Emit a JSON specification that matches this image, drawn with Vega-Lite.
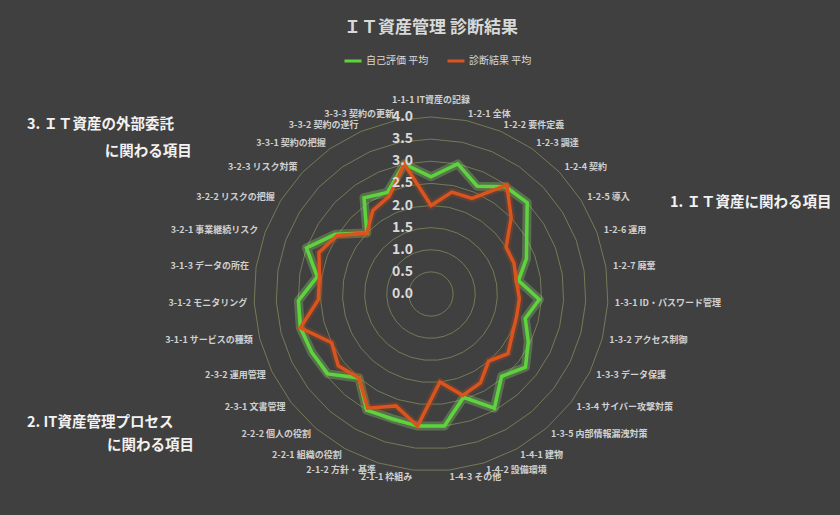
{
  "$schema": "https://vega.github.io/schema/vega-lite/v6.json",
  "width": 840,
  "height": 455,
  "autosize": {"type": "none"},
  "padding": {"top": 60, "left": 0, "right": 0, "bottom": 0},
  "background": "#404040",
  "config": {
    "view": {"stroke": null},
    "font": "Noto Sans CJK JP",
    "legend": {
      "orient": "none",
      "legendX": 343,
      "legendY": -9,
      "direction": "horizontal",
      "padding": 0,
      "symbolType": "stroke",
      "symbolSize": 289,
      "symbolStrokeWidth": 3,
      "labelFontSize": 10,
      "labelColor": "#D9D9D9",
      "labelFont": "Noto Sans CJK JP",
      "labelOffset": 3,
      "columnPadding": 12
    }
  },
  "title": {
    "text": "ＩＴ資産管理 診断結果",
    "anchor": "middle",
    "frame": "group",
    "dx": 11,
    "offset": 14,
    "fontSize": 17,
    "fontWeight": "bold",
    "color": "#D9D9D9",
    "font": "Noto Sans CJK JP"
  },
  "datasets": {
    "items": [
      {"idx": 0, "label": "1-1-1 IT資産の記録", "自己評価 平均": 2.65, "診断結果 平均": 2.0},
      {"idx": 1, "label": "1-2-1 全体", "自己評価 平均": 3.0, "診断結果 平均": 2.35},
      {"idx": 2, "label": "1-2-2 要件定義", "自己評価 平均": 2.65, "診断結果 平均": 2.35},
      {"idx": 3, "label": "1-2-3 調達", "自己評価 平均": 2.95, "診断結果 平均": 3.0},
      {"idx": 4, "label": "1-2-4 契約", "自己評価 平均": 3.0, "診断結果 平均": 2.5},
      {"idx": 5, "label": "1-2-5 導入", "自己評価 平均": 2.55, "診断結果 平均": 2.0},
      {"idx": 6, "label": "1-2-6 運用", "自己評価 平均": 2.3, "診断結果 平均": 2.0},
      {"idx": 7, "label": "1-2-7 廃棄", "自己評価 平均": 2.0, "診断結果 平均": 1.95},
      {"idx": 8, "label": "1-3-1 ID・パスワード管理", "自己評価 平均": 2.45, "診断結果 平均": 2.0},
      {"idx": 9, "label": "1-3-2 アクセス制御", "自己評価 平均": 2.2, "診断結果 平均": 2.0},
      {"idx": 10, "label": "1-3-3 データ保護", "自己評価 平均": 2.45, "診断結果 平均": 2.05},
      {"idx": 11, "label": "1-3-4 サイバー攻撃対策", "自己評価 平均": 2.7, "診断結果 平均": 2.2},
      {"idx": 12, "label": "1-3-5 内部情報漏洩対策", "自己評価 平均": 2.45, "診断結果 平均": 2.0},
      {"idx": 13, "label": "1-4-1 建物", "自己評価 平均": 2.95, "診断結果 平均": 2.3},
      {"idx": 14, "label": "1-4-2 設備環境", "自己評価 平均": 2.45, "診断結果 平均": 2.4},
      {"idx": 15, "label": "1-4-3 その他", "自己評価 平均": 3.0, "診断結果 平均": 2.0},
      {"idx": 16, "label": "2-1-1 枠組み", "自己評価 平均": 3.0, "診断結果 平均": 3.0},
      {"idx": 17, "label": "2-1-2 方針・基準", "自己評価 平均": 2.95, "診断結果 平均": 2.65},
      {"idx": 18, "label": "2-2-1 組織の役割", "自己評価 平均": 3.0, "診断結果 平均": 2.95},
      {"idx": 19, "label": "2-2-2 個人の役割", "自己評価 平均": 2.5, "診断結果 平均": 2.5},
      {"idx": 20, "label": "2-3-1 文書管理", "自己評価 平均": 2.95, "診断結果 平均": 2.65},
      {"idx": 21, "label": "2-3-2 運用管理", "自己評価 平均": 3.0, "診断結果 平均": 2.5},
      {"idx": 22, "label": "3-1-1 サービスの種類", "自己評価 平均": 3.05, "診断結果 平均": 3.05},
      {"idx": 23, "label": "3-1-2 モニタリング", "自己評価 平均": 3.0, "診断結果 平均": 2.55},
      {"idx": 24, "label": "3-1-3 データの所在", "自己評価 平均": 2.6, "診断結果 平均": 2.55},
      {"idx": 25, "label": "3-2-1 事業継続リスク", "自己評価 平均": 3.0, "診断結果 平均": 2.7},
      {"idx": 26, "label": "3-2-2 リスクの把握", "自己評価 平均": 2.55, "診断結果 平均": 2.5},
      {"idx": 27, "label": "3-2-3 リスク対策", "自己評価 平均": 2.0, "診断結果 平均": 2.0},
      {"idx": 28, "label": "3-3-1 契約の把握", "自己評価 平均": 2.65, "診断結果 平均": 2.3},
      {"idx": 29, "label": "3-3-2 契約の遂行", "自己評価 平均": 2.5, "診断結果 平均": 2.4},
      {"idx": 30, "label": "3-3-3 契約の更新", "自己評価 平均": 3.0, "診断結果 平均": 3.0}
    ],
    "rings": [
      {"v": 0}, {"v": 0.5}, {"v": 1}, {"v": 1.5}, {"v": 2},
      {"v": 2.5}, {"v": 3}, {"v": 3.5}, {"v": 4}
    ]
  },
  "data": {"name": "items"},
  "layer": [
    {
      "transform": [
        {"calculate": "[0.5, 1, 1.5, 2, 2.5, 3, 3.5, 4]", "as": "lv"},
        {"flatten": ["lv"]},
        {"calculate": "datum.lv * sin(2 * PI * datum.idx / 31)", "as": "gx"},
        {"calculate": "datum.lv * cos(2 * PI * datum.idx / 31)", "as": "gy"}
      ],
      "mark": {"type": "line", "interpolate": "linear-closed", "color": "#747B56", "strokeWidth": 1},
      "encoding": {
        "x": {"field": "gx", "type": "quantitative", "scale": {"domain": [-9.740, 9.243], "nice": false, "zero": false}, "axis": null},
        "y": {"field": "gy", "type": "quantitative", "scale": {"domain": [-4.994, 5.288], "nice": false, "zero": false}, "axis": null},
        "detail": {"field": "lv", "type": "nominal"},
        "order": {"field": "idx", "type": "quantitative"}
      }
    },
    {
      "transform": [
        {"fold": ["自己評価 平均", "診断結果 平均"], "as": ["series", "value"]},
        {"calculate": "datum.value * sin(2 * PI * datum.idx / 31)", "as": "px"},
        {"calculate": "datum.value * cos(2 * PI * datum.idx / 31)", "as": "py"}
      ],
      "encoding": {
        "x": {"field": "px", "type": "quantitative", "axis": null},
        "y": {"field": "py", "type": "quantitative", "axis": null},
        "order": {"field": "idx", "type": "quantitative"}
      },
      "layer": [
        {
          "transform": [{"filter": "datum.series === '自己評価 平均'"}],
          "mark": {"type": "line", "interpolate": "linear-closed", "color": "#8FE070", "strokeWidth": 9, "opacity": 0.3, "strokeJoin": "round"}
        },
        {
          "transform": [{"filter": "datum.series === '診断結果 平均'"}],
          "mark": {"type": "line", "interpolate": "linear-closed", "color": "#B04A1C", "strokeWidth": 8, "opacity": 0.3, "strokeJoin": "round"}
        },
        {
          "transform": [{"filter": "datum.series === '自己評価 平均'"}],
          "mark": {"type": "line", "interpolate": "linear-closed", "strokeWidth": 3.5, "strokeJoin": "miter"},
          "encoding": {
            "color": {"field": "series", "type": "nominal", "title": null,
              "scale": {"domain": ["自己評価 平均", "診断結果 平均"], "range": ["#5ED43C", "#D9541E"]}}
          }
        },
        {
          "transform": [{"filter": "datum.series === '診断結果 平均'"}],
          "mark": {"type": "line", "interpolate": "linear-closed", "strokeWidth": 3.5, "strokeJoin": "miter"},
          "encoding": {
            "color": {"field": "series", "type": "nominal", "title": null}
          }
        }
      ]
    },
    {
      "data": {"name": "rings"},
      "mark": {"type": "text", "align": "right", "baseline": "middle", "dx": -18, "fontSize": 14, "fontWeight": "bold", "color": "#D9D9D9"},
      "encoding": {
        "x": {"datum": 0, "type": "quantitative"},
        "y": {"field": "v", "type": "quantitative"},
        "text": {"field": "v", "type": "quantitative", "format": ".1f"}
      }
    },
    {
      "transform": [{"filter": "datum.idx === 0"}],
      "mark": {"type": "text", "align": "center", "baseline": "middle", "fontSize": 9, "fontWeight": "bold", "color": "#D0D0D0"},
      "encoding": {
        "x": {"datum": 0, "type": "quantitative"},
        "y": {"datum": 0, "type": "quantitative"},
        "theta": {"field": "idx", "type": "quantitative", "scale": {"domain": [0, 31], "nice": false, "zero": true}},
        "radius": {"datum": 4.38, "scale": {"type": "linear", "domain": [0, 5.141], "nice": false, "zero": true}},
        "text": {"field": "label"}
      }
    },
    {
      "transform": [{"filter": "datum.idx >= 1 && datum.idx <= 15"}],
      "mark": {"type": "text", "align": "left", "baseline": "middle", "fontSize": 9, "fontWeight": "bold", "color": "#D0D0D0"},
      "encoding": {
        "x": {"datum": 0, "type": "quantitative"},
        "y": {"datum": 0, "type": "quantitative"},
        "theta": {"field": "idx", "type": "quantitative"},
        "radius": {"datum": 4.16},
        "text": {"field": "label"}
      }
    },
    {
      "transform": [{"filter": "datum.idx >= 16"}],
      "mark": {"type": "text", "align": "right", "baseline": "middle", "fontSize": 9, "fontWeight": "bold", "color": "#D0D0D0"},
      "encoding": {
        "x": {"datum": 0, "type": "quantitative"},
        "y": {"datum": 0, "type": "quantitative"},
        "theta": {"field": "idx", "type": "quantitative"},
        "radius": {"datum": 4.16},
        "text": {"field": "label"}
      }
    },
    {
      "data": {"values": [{"t": "1. ＩＴ資産に関わる項目"}]},
      "mark": {"type": "text", "align": "left", "baseline": "middle", "fontSize": 14.5, "fontWeight": "bold", "color": "#F2F2F2"},
      "encoding": {"x": {"datum": 5.40}, "y": {"datum": 2.06}, "text": {"field": "t"}}
    },
    {
      "data": {"values": [{"t": "3. ＩＴ資産の外部委託"}]},
      "mark": {"type": "text", "align": "left", "baseline": "middle", "fontSize": 14.5, "fontWeight": "bold", "color": "#F2F2F2"},
      "encoding": {"x": {"datum": -9.13}, "y": {"datum": 3.82}, "text": {"field": "t"}}
    },
    {
      "data": {"values": [{"t": "に関わる項目"}]},
      "mark": {"type": "text", "align": "left", "baseline": "middle", "fontSize": 14.5, "fontWeight": "bold", "color": "#F2F2F2"},
      "encoding": {"x": {"datum": -7.37}, "y": {"datum": 3.21}, "text": {"field": "t"}}
    },
    {
      "data": {"values": [{"t": "2. IT資産管理プロセス"}]},
      "mark": {"type": "text", "align": "left", "baseline": "middle", "fontSize": 14.5, "fontWeight": "bold", "color": "#F2F2F2"},
      "encoding": {"x": {"datum": -9.13}, "y": {"datum": -2.92}, "text": {"field": "t"}}
    },
    {
      "data": {"values": [{"t": "に関わる項目"}]},
      "mark": {"type": "text", "align": "left", "baseline": "middle", "fontSize": 14.5, "fontWeight": "bold", "color": "#F2F2F2"},
      "encoding": {"x": {"datum": -7.32}, "y": {"datum": -3.43}, "text": {"field": "t"}}
    }
  ]
}
